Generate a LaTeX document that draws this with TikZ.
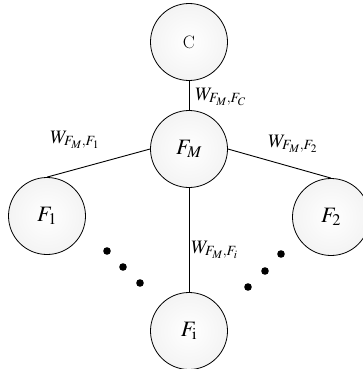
\documentclass[tikz,border=0pt]{standalone}
\usepackage{amsmath,amssymb}
\usepackage{mathptmx}
\usepackage{tikz}

\begin{document}
\begin{tikzpicture}[
  x=1pt,
  y=-1pt,
  every node/.style={font=\fontsize{19}{22}\selectfont},
  feat/.style={draw, circle, minimum size=77pt, inner sep=0pt, line width=0.8pt,
    shade, inner color=white, outer color=gray!9,
    font=\fontsize{22}{25}\selectfont},
  wlabel/.style={anchor=base west, inner sep=0pt},
  link/.style={line width=0.9pt},
  dot/.style={fill=black}
]
\useasboundingbox (0,0) rectangle (363,369);

\node[feat, font=\fontsize{18}{20}\selectfont] (C) at (189,42) {C};
\node[feat] (FM) at (189,149) {$F_M$};
\node[feat] (F1) at (47,216) {$F_1$};
\node[feat] (F2) at (331,217) {$F_2$};
\node[feat] (Fi) at (189,331) {$F_\mathrm{i}$};

\draw[link] (FM.north) -- (C.south);
\draw[link] (FM.west) -- (F1.north);
\draw[link] (FM.east) -- (F2.north);
\draw[link] (FM.south) -- (Fi.north);

\node[wlabel] (wC) at (195,100) {$W_{F_M,F_C}$};
\node[wlabel] (w1) at (50,143) {$W_{F_M,F_1}$};
\node[wlabel] (w2) at (268,147) {$W_{F_M,F_2}$};
\node[wlabel] (wi) at (191,253) {$W_{F_M,F_i}$};

% dots between the lower nodes
\fill[dot] (107,251) circle (3.8) (123,267) circle (3.8) (140,283) circle (3.8);
\fill[dot] (281,254) circle (3.8) (265,271) circle (3.8) (248,287) circle (3.8);
\end{tikzpicture}
\end{document}
